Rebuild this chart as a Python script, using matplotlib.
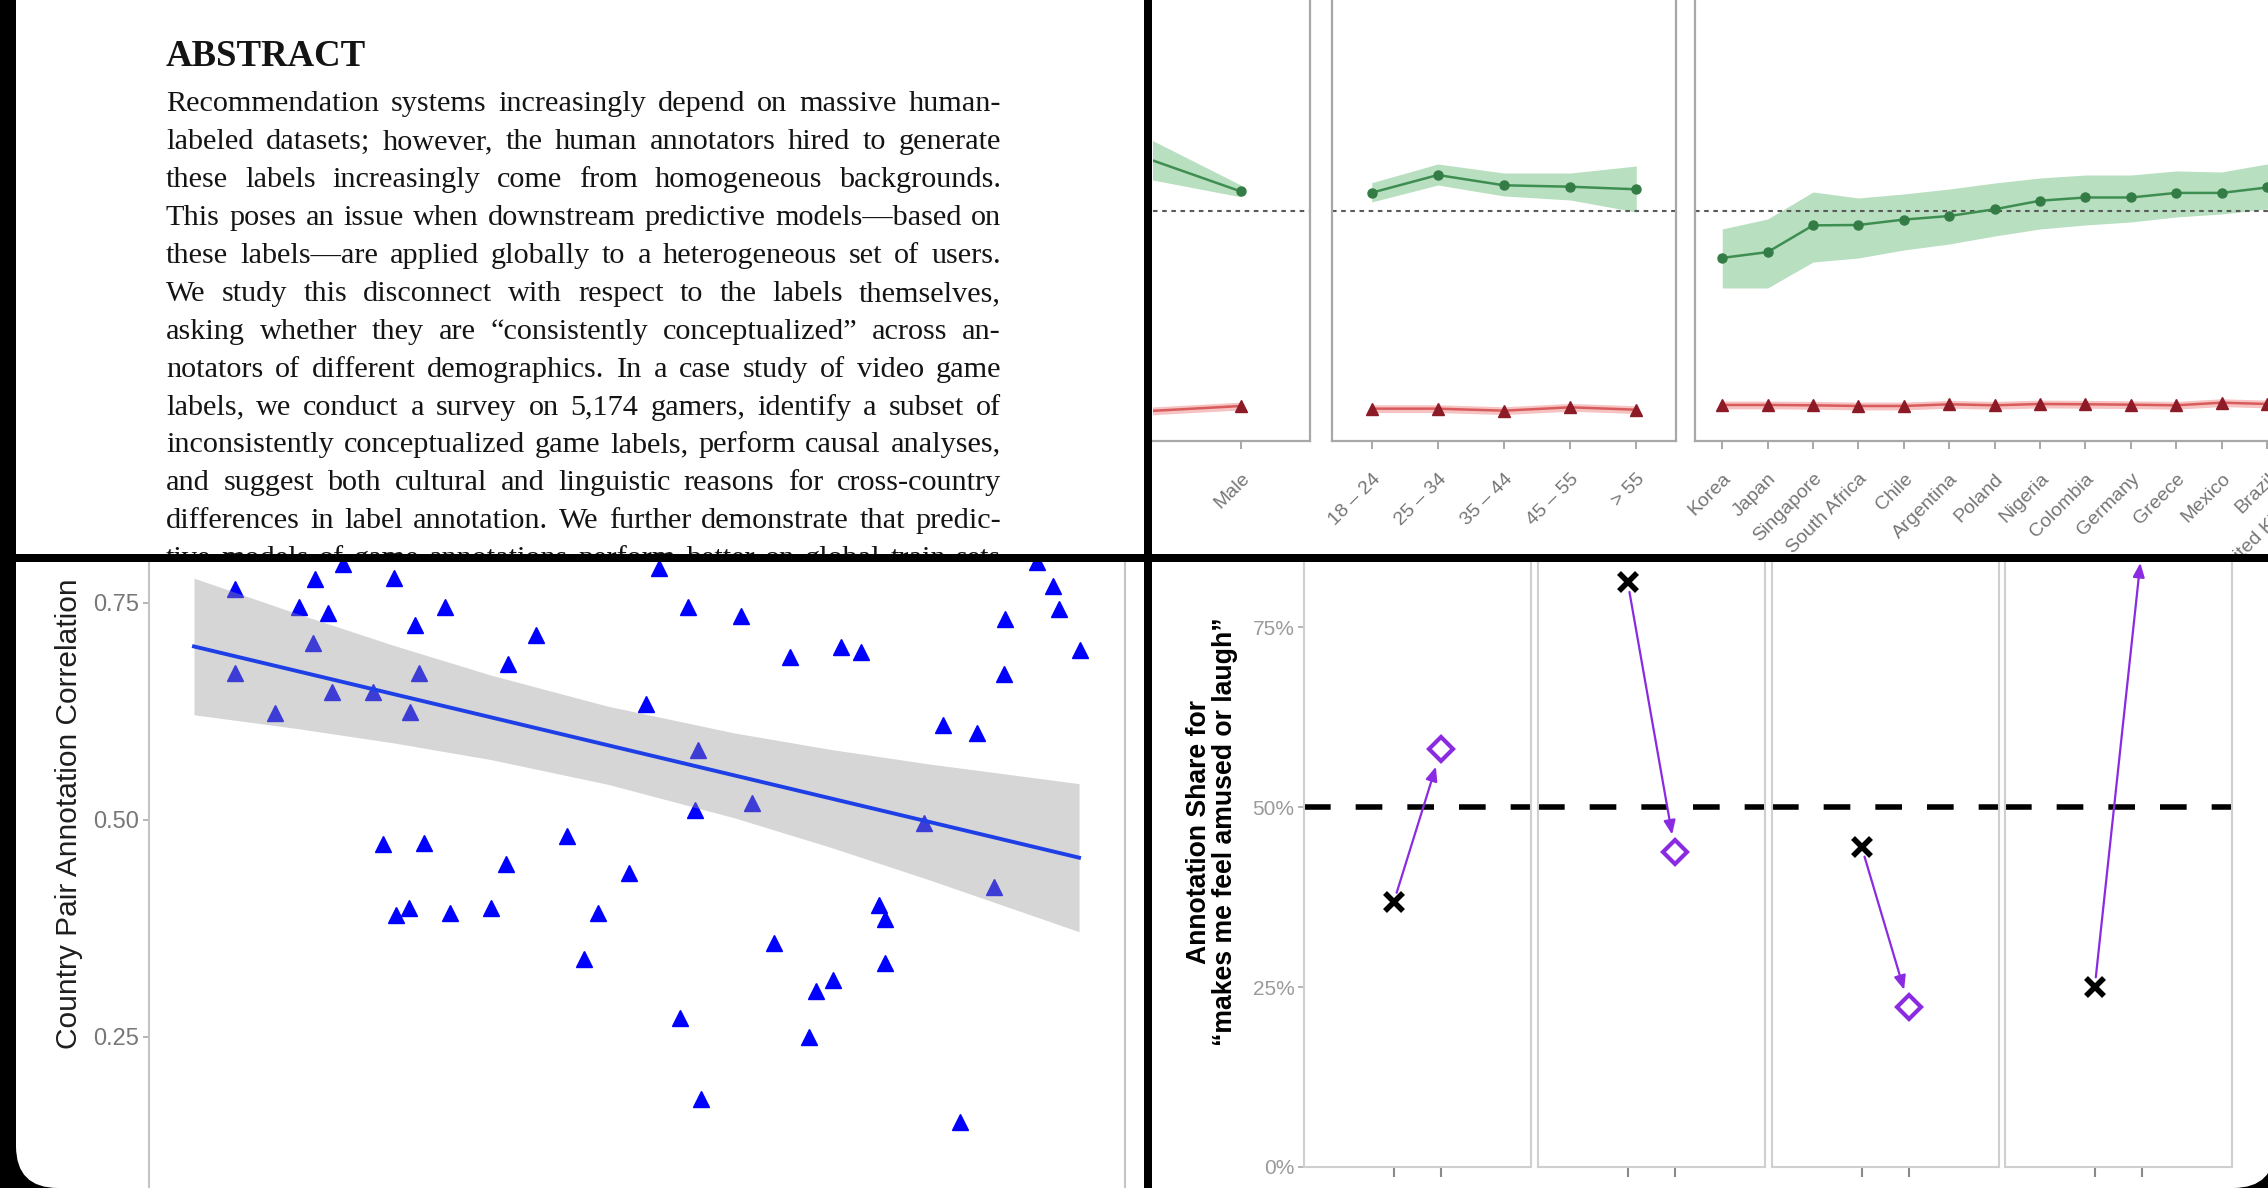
import matplotlib
matplotlib.use("Agg")
import matplotlib.pyplot as plt
from matplotlib.patches import Rectangle, FancyBboxPatch, FancyArrowPatch

plt.rcParams['font.family'] = ['Liberation Sans', 'DejaVu Sans']

# ======================= DATA =======================
abstract_title = "ABSTRACT"
abstract_lines = [
    "Recommendation systems increasingly depend on massive human-",
    "labeled datasets; however, the human annotators hired to generate",
    "these labels increasingly come from homogeneous backgrounds.",
    "This poses an issue when downstream predictive models\u2014based on",
    "these labels\u2014are applied globally to a heterogeneous set of users.",
    "We study this disconnect with respect to the labels themselves,",
    "asking whether they are \u201cconsistently conceptualized\u201d across an-",
    "notators of different demographics. In a case study of video game",
    "labels, we conduct a survey on 5,174 gamers, identify a subset of",
    "inconsistently conceptualized game labels, perform causal analyses,",
    "and suggest both cultural and linguistic reasons for cross-country",
    "differences in label annotation. We further demonstrate that predic-",
    "tive models of game annotations perform better on global train sets",
]

# top-right: per-demographic estimates (green = consistent label, red = other label)
reference_level = 0.5
red_ci = 0.008

gender_cats = ["Female", "Male"]
gender_green = [0.623, 0.540]
gender_green_lo = [0.574, 0.529]
gender_green_hi = [0.672, 0.553]
gender_red = [0.087, 0.100]

age_cats = ["18 \u2013 24", "25 \u2013 34", "35 \u2013 44", "45 \u2013 55", "> 55"]
age_green = [0.5375, 0.5738, 0.5527, 0.5498, 0.5445]
age_green_lo = [0.5185, 0.5533, 0.5308, 0.5226, 0.4979]
age_green_hi = [0.5581, 0.5964, 0.5779, 0.5779, 0.5923]
age_red = [0.0945, 0.0945, 0.0904, 0.0973, 0.0924]

country_cats = ["Korea", "Japan", "Singapore", "South Africa", "Chile", "Argentina",
                "Poland", "Nigeria", "Colombia", "Germany", "Greece", "Mexico",
                "Brazil", "United Kingdom", "United States"]
country_green = [0.4038, 0.4157, 0.4705, 0.4713, 0.4824, 0.4897, 0.5035, 0.5211,
                 0.5277, 0.5277, 0.5371, 0.5371, 0.5482, 0.5533, 0.5574]
country_green_lo = [0.3421, 0.3421, 0.3954, 0.4036, 0.4200, 0.4323, 0.4487, 0.4631,
                    0.4713, 0.4774, 0.4877, 0.4938, 0.5041, 0.5082, 0.5123]
country_green_hi = [0.4631, 0.4836, 0.5390, 0.5267, 0.5349, 0.5451, 0.5574, 0.5677,
                    0.5738, 0.5738, 0.5821, 0.5800, 0.5964, 0.6005, 0.6046]
country_red = [0.1021, 0.1021, 0.1014, 0.1000, 0.1000, 0.1035, 0.1014, 0.1041,
               0.1035, 0.1027, 0.1014, 0.1068, 0.1041, 0.1020, 0.1020]

# bottom-left: country pair annotation correlation
corr_x = [8.79, 8.79, 12.91, 15.33, 16.98, 16.83, 18.34, 18.79, 19.84, 22.99,
          25.10, 26.74, 27.28, 27.66, 30.29, 23.98, 28.18, 25.31, 26.60, 30.89,
          35.02, 36.82, 36.53, 39.68, 42.83, 46.00, 44.57, 49.16, 50.88, 52.23,
          55.25, 56.22, 55.92, 54.41, 56.60, 60.66, 61.78, 64.04, 65.68, 67.64,
          68.32, 70.05, 70.95, 72.91, 74.80, 75.39, 75.39, 79.45, 81.40, 83.05,
          84.87, 86.58, 87.64, 87.70, 90.95, 92.60, 93.21, 95.39]
corr_y = [0.7656, 0.6695, 0.6236, 0.7454, 0.7773, 0.7041, 0.7388, 0.6470, 0.7947, 0.6470,
          0.7782, 0.6244, 0.7243, 0.6695, 0.7454, 0.4724, 0.4735, 0.3906, 0.3986, 0.3929,
          0.3986, 0.6797, 0.4493, 0.7136, 0.4816, 0.3929, 0.3400, 0.4385, 0.6339, 0.7900,
          0.7454, 0.5804, 0.5111, 0.2720, 0.1786, 0.7347, 0.5196, 0.3588, 0.6883, 0.2500,
          0.3025, 0.3157, 0.6995, 0.6930, 0.4021, 0.3860, 0.3353, 0.4961, 0.6094, 0.1525,
          0.6002, 0.4229, 0.6682, 0.7316, 0.7970, 0.7698, 0.7431, 0.6962]
trend_x = [4.61, 95.29]
trend_y = [0.6999, 0.4566]
band_x = [4.61, 15, 25, 35, 47, 60, 70, 80, 95.29]
band_lo = [0.6212, 0.6056, 0.5889, 0.5696, 0.5411, 0.5024, 0.4679, 0.4308, 0.3713]
band_hi = [0.7786, 0.7384, 0.7014, 0.6670, 0.6311, 0.6002, 0.5810, 0.5644, 0.5419]
corr_ticks = [0.25, 0.50, 0.75]
corr_ticklabels = ["0.25", "0.50", "0.75"]
corr_ylabel = "Country Pair Annotation Correlation"

# bottom-right: annotation share before -> after
share_before = [0.368, 0.812, 0.444, 0.250]
share_after = [0.580, 0.437, 0.222, 0.864]
share_ticks = [0.0, 0.25, 0.50, 0.75]
share_ticklabels = ["0%", "25%", "50%", "75%"]
share_ylabel = "Annotation Share for\n\u201cmakes me feel amused or laugh\u201d"

# ======================= LAYOUT =======================
W, H = 2268, 1188
fig = plt.figure(figsize=(W / 100, H / 100), dpi=100, facecolor='black')


def frect(x0, y0, x1, y1):
    return [x0 / W, 1 - y1 / H, (x1 - x0) / W, (y1 - y0) / H]


def fx(x):
    return x / W


def fy(y):
    return 1 - y / H


# white screen with rounded bottom corners
bg = FancyBboxPatch((0.16, 0.0), 22.59, 14.0, boxstyle="round,pad=0,rounding_size=0.42",
                    transform=fig.dpi_scale_trans, fc='white', ec='none', zorder=-10)
fig.add_artist(bg)

# ---------------- top-left: abstract text ----------------
serif = ['Liberation Serif', 'DejaVu Serif']
fig.text(fx(166), fy(66), abstract_title, fontsize=26.5, family=serif,
         weight='bold', va='baseline', ha='left', color='#141414', zorder=1.5)

renderer = fig.canvas.get_renderer()
text_left, text_right = 166, 1001
for i, line in enumerate(abstract_lines):
    base = 111.4 + 37.9 * i
    words = line.split(' ')
    tobjs = [fig.text(0, fy(base), w, fontsize=21.8, family=serif,
                      va='baseline', ha='left', color='#141414', zorder=1.5) for w in words]
    widths = [t.get_window_extent(renderer).width for t in tobjs]
    gap = (text_right - text_left - sum(widths)) / max(len(words) - 1, 1)
    xpos = text_left
    for t, wd in zip(tobjs, widths):
        t.set_x(fx(xpos))
        xpos += wd + gap

# ---------------- top-right: facets ----------------
tr_ylim = (0.0282, 0.9328)


def top_facet(px_rect, cats, g, glo, ghi, r, xlim, left_spine=True):
    ax = fig.add_axes(frect(*px_rect))
    ax.set_facecolor('none')
    ax.set_zorder(0)
    x = list(range(len(cats)))
    ax.fill_between(x, glo, ghi, color='#a6d7b1', alpha=0.8, lw=0, zorder=1)
    ax.axhline(reference_level, color='#5a5a5a', lw=1.5, ls=(0, (2.2, 2.2)), zorder=2)
    ax.plot(x, g, color='#3f8e51', lw=1.8, marker='o', ms=6.5, mfc='#347c45', mec='#347c45', zorder=3)
    ax.fill_between(x, [v - red_ci for v in r], [v + red_ci for v in r],
                    color='#f29a9a', alpha=0.6, lw=0, zorder=1)
    ax.plot(x, r, color='#d85c5c', lw=1.8, marker='^', ms=8, mfc='#8c1b27', mec='#8c1b27', zorder=3)
    ax.set_xlim(*xlim)
    ax.set_ylim(*tr_ylim)
    ax.set_yticks([])
    shown = [i for i in x if xlim[0] <= i <= xlim[1]]
    ax.set_xticks(shown)
    ax.set_xticklabels([cats[i] for i in shown], rotation=45, ha='right', va='top',
                       rotation_mode='anchor', fontsize=14, color='#767676')
    ax.tick_params(axis='x', length=6, width=1.2, color='#9a9a9a', pad=15)
    for s in ax.spines.values():
        s.set_color('#a8a8a8')
        s.set_linewidth(1.6)
    ax.spines['top'].set_visible(False)
    if not left_spine:
        ax.spines['left'].set_visible(False)
    return ax


top_facet((1153, 0, 1310, 441), gender_cats, gender_green, gender_green_lo, gender_green_hi,
          gender_red, (0.2348, 1.6), left_spine=False)
top_facet((1332, 0, 1676, 441), age_cats, age_green, age_green_lo, age_green_hi,
          age_red, (-0.6, 4.6))
top_facet((1695, 0, 2385, 441), country_cats, country_green, country_green_lo, country_green_hi,
          country_red, (-0.6, 14.6))

# cover for label overflow below top-right panel
fig.add_artist(Rectangle((fx(1152), fy(640)), (2268 - 1152) / W, 78 / H, transform=fig.transFigure,
                         fc='white', ec='none', zorder=1))

# ---------------- bottom-left: scatter ----------------
axl = fig.add_axes(frect(149, 562, 1125, 1188))
axl.set_zorder(2)
axl.set_facecolor('white')
axl.plot(corr_x, corr_y, ls='none', marker='^', ms=11.5, color='#0000ff', zorder=2)
axl.fill_between(band_x, band_lo, band_hi, color='#999999', alpha=0.4, lw=0, zorder=3)
axl.plot(trend_x, trend_y, color='#1f3fe6', lw=2.8, zorder=4)
axl.set_xlim(0, 100)
axl.set_ylim(0.0760, 0.7972)
axl.set_xticks([])
axl.set_yticks(corr_ticks)
axl.set_yticklabels(corr_ticklabels, fontsize=17, color='#777777')
axl.tick_params(axis='y', length=4, width=1.2, color='#aaaaaa', pad=3)
for k in ('top', 'bottom'):
    axl.spines[k].set_visible(False)
for k in ('left', 'right'):
    axl.spines[k].set_color('#c4c4c4')
    axl.spines[k].set_linewidth(1.5)
fig.text(fx(69), fy(814), corr_ylabel, rotation=90, ha='center', va='center',
         fontsize=21.5, color='#1e1e1e', zorder=3)

# ---------------- bottom-right: arrows ----------------
br_lefts = [1304, 1538, 1772, 2005]
for i, left in enumerate(br_lefts):
    ax = fig.add_axes(frect(left, 562, left + 227, 1167))
    ax.set_zorder(2)
    ax.set_facecolor('none')
    ax.set_xlim(-1.89, 2.89)
    ax.set_ylim(0, 0.8403)
    ax.axhline(reference_level, color='black', lw=4.0, ls=(0, (4.8, 4.5)), zorder=1)
    ax.add_patch(FancyArrowPatch((0, share_before[i]), (1, share_after[i]),
                                 arrowstyle='-|>,head_length=0.6,head_width=0.25',
                                 mutation_scale=14, shrinkA=7, shrinkB=13,
                                 color='#8a2be2', lw=1.6, zorder=3))
    ax.plot([0], [share_before[i]], ls='none', marker='x', ms=13, mew=4, color='black', zorder=4)
    ax.plot([1], [share_after[i]], ls='none', marker='D', ms=12, mew=3, mfc='white',
            mec='#8a2be2', zorder=4)
    ax.set_xticks([0, 1])
    ax.set_xticklabels(['', ''])
    ax.tick_params(axis='x', length=7, width=1.5, color='#8a8a8a')
    if i == 0:
        ax.set_yticks(share_ticks)
        ax.set_yticklabels(share_ticklabels, fontsize=15, color='#9a9a9a')
        ax.tick_params(axis='y', length=4, width=1.2, color='#aaaaaa', pad=3)
    else:
        ax.set_yticks([])
    for s in ax.spines.values():
        s.set_color('#cfcfcf')
        s.set_linewidth(1.5)
    ax.spines['top'].set_visible(False)

fig.text(fx(1212), fy(832), share_ylabel, rotation=90, ha='center', va='center',
         multialignment='center', fontsize=19.2, weight='bold', color='black',
         linespacing=1.0, zorder=3)

# ---------------- dividers ----------------
fig.add_artist(Rectangle((fx(1144), 0), 8 / W, 1, transform=fig.transFigure,
                         fc='black', ec='none', zorder=10))
fig.add_artist(Rectangle((0, fy(562)), 1, 8 / H, transform=fig.transFigure,
                         fc='black', ec='none', zorder=10))

fig.savefig("out.png", dpi=100, facecolor=fig.get_facecolor())
